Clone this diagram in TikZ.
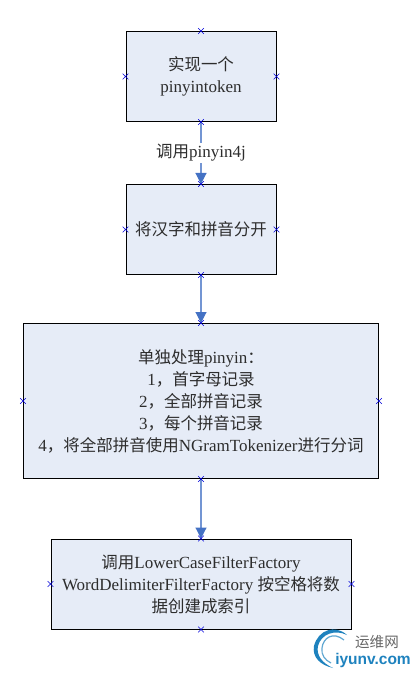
\documentclass[tikz,border=0pt]{standalone}
\usepackage{fontspec}
\setmainfont{Liberation Serif}
\newfontfamily\cjk{Noto Sans CJK SC}[Scale=0.97]
\newfontfamily\logofont{Liberation Sans}
\usetikzlibrary{arrows.meta,shapes.misc}
\definecolor{boxfill}{RGB}{230,236,247}
\definecolor{linkblue}{RGB}{68,114,196}
\definecolor{textgray}{RGB}{45,45,45}
\definecolor{logoblue}{RGB}{30,130,190}
\newcommand{\zh}[1]{{\cjk #1}}
\tikzset{
  flowbox/.style={draw=black,line width=1pt,fill=boxfill,text=textgray,font=\fontsize{17}{22}\selectfont,align=center,inner sep=0pt,anchor=north west},
  site/.style={cross out,draw=blue!85!black,line width=0.6pt,minimum size=5pt,inner sep=0pt},
  link/.style={draw=linkblue!75!white,line width=1.1pt,-{Triangle[length=11pt,width=11pt,fill=linkblue,color=linkblue]}},
  linklabel/.style={fill=white,text=textgray,font=\fontsize{17}{20}\selectfont,inner sep=1pt}
}
\begin{document}
\begin{tikzpicture}[x=1pt,y=-1pt]
\useasboundingbox (0,0) rectangle (417,676);
\node[flowbox,minimum width=150pt,minimum height=90pt] (a) at (125.5,31) {\zh{实现一个}\\pinyintoken};
\node[flowbox,minimum width=150pt,minimum height=90pt] (b) at (125.5,184) {\zh{将汉字和拼音分开}};
\node[flowbox,minimum width=355pt,minimum height=155pt] (c) at (23,323) {\zh{单独处理}pinyin\zh{：}\\1\zh{，首字母记录}\\2\zh{，全部拼音记录}\\3\zh{，每个拼音记录}\\4\zh{，将全部拼音使用}NGramTokenizer\zh{进行分词}};
\node[flowbox,minimum width=300pt,minimum height=90pt] (d) at (50.5,538.5) {\zh{调用}LowerCaseFilterFactory\\WordDelimiterFilterFactory \zh{按空格将数}\\\zh{据创建成索引}};
\draw[link] (a.south) -- node[linklabel] (lab) {\zh{调用}pinyin4j} (b.north);
\draw[link] (b.south) -- (c.north);
\draw[link] (c.south) -- (d.north);
\foreach \n in {a,b,c,d}{
  \node[site] (\n n) at (\n.north) {};
  \node[site] (\n s) at (\n.south) {};
  \node[site] (\n w) at (\n.west) {};
  \node[site] (\n e) at (\n.east) {};
}
% watermark
\begin{scope}[logoblue]
\fill (347,635) .. controls (335,624) and (318,630) .. (314,646) .. controls (312,657) and (320,665) .. (333,668) .. controls (322,663) and (316,655) .. (318,646) .. controls (321,634) and (335,629) .. (347,635);
\draw[line width=1.2pt,logoblue!70!white] (344,640) .. controls (333,631) and (323,638) .. (322,648) .. controls (321,655) and (325,660) .. (331,663);
\end{scope}
\node[text=black!60,font=\fontsize{15}{15}\selectfont\cjk,inner sep=0pt] (w1) at (377,642) {运维网};
\node[text=logoblue,font=\fontsize{15.5}{15}\selectfont\logofont\bfseries,inner sep=0pt] (w2) at (373,660) {iyunv.com};
\end{tikzpicture}
\end{document}
